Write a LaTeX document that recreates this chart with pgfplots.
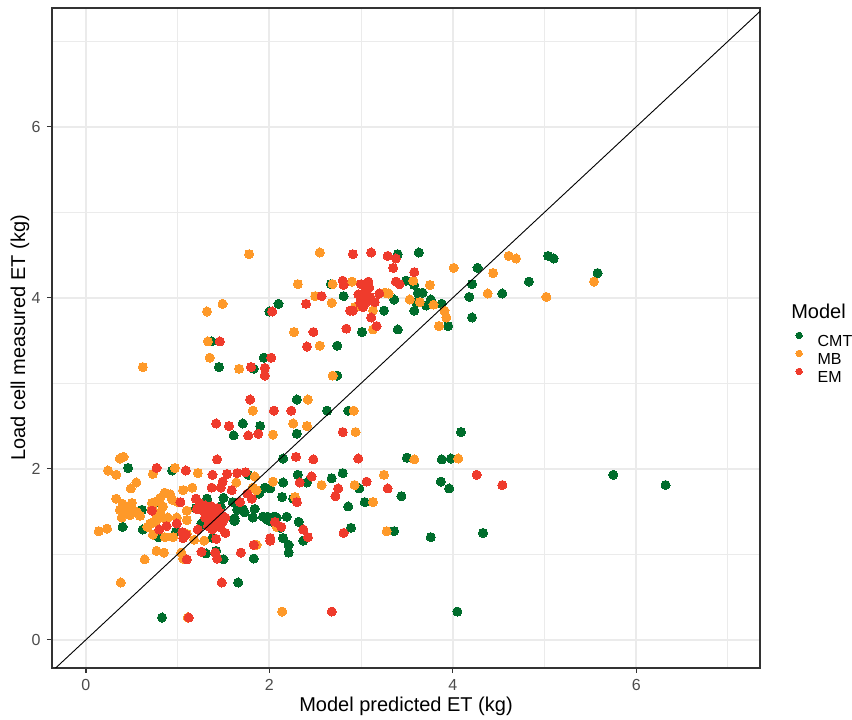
\documentclass[border=0pt]{standalone}
\usepackage{fontspec}
\setmainfont{Liberation Sans}
\usepackage{pgfplots}
\usepackage{pgfplotstable}
\pgfplotsset{compat=1.18}
\definecolor{cmt}{HTML}{006D2C}
\definecolor{mb}{HTML}{FE9929}
\definecolor{em}{HTML}{EF3B2C}
\definecolor{gridc}{gray}{0.92}
\definecolor{g20}{gray}{0.2}
\definecolor{g30}{gray}{0.3}

\pgfplotstableread{
x y
3.40 4.51
3.63 4.53
2.67 4.16
2.81 4.02
3.36 3.98
3.49 4.20
3.58 4.15
3.62 4.06
3.67 4.06
3.60 3.95
3.76 3.98
3.71 3.91
3.88 3.93
3.58 3.85
3.25 3.85
3.01 3.60
3.40 3.63
3.95 3.67
2.74 3.44
4.27 4.35
4.21 4.16
4.54 4.05
4.18 4.01
4.21 3.77
4.83 4.19
5.04 4.49
5.10 4.46
5.58 4.29
2.10 3.93
2.00 3.84
1.37 3.49
1.94 3.30
1.45 3.19
1.83 3.17
2.74 3.09
2.30 2.81
2.63 2.68
2.86 2.68
1.71 2.53
1.90 2.50
1.61 2.39
2.30 2.41
4.09 2.43
0.46 2.01
0.94 1.98
2.15 2.12
3.50 2.13
3.88 2.11
3.98 2.12
5.75 1.93
6.32 1.81
1.77 1.93
2.15 1.84
2.31 1.93
2.41 1.84
2.68 1.89
2.80 1.95
2.98 1.77
3.44 1.68
3.87 1.85
3.96 1.77
3.04 1.61
2.86 1.56
2.89 1.31
3.36 1.27
3.76 1.20
4.33 1.25
4.05 0.33
0.61 1.52
0.76 1.61
1.20 1.54
1.32 1.65
1.26 1.36
0.40 1.32
0.62 1.29
0.98 1.26
0.79 1.20
1.95 1.78
2.01 1.77
1.89 1.71
1.50 1.66
1.60 1.61
2.14 1.67
2.26 1.65
1.47 1.56
1.65 1.52
1.84 1.53
1.73 1.49
1.71 1.53
1.82 1.43
1.62 1.42
1.93 1.44
1.98 1.44
2.05 1.44
2.08 1.43
2.19 1.44
2.03 1.38
1.98 1.40
2.12 1.31
2.32 1.38
1.28 1.35
1.38 1.19
2.15 1.19
1.42 1.04
1.31 1.01
1.50 0.94
1.83 0.95
2.21 1.11
2.21 1.02
2.37 1.16
1.62 1.39
1.66 0.67
0.83 0.26
}\cmtdata

\pgfplotstableread{
x y
2.55 4.53
1.78 4.51
2.31 4.16
2.69 4.16
2.90 4.19
2.50 4.02
2.68 3.94
2.93 3.89
3.26 4.06
3.30 4.05
3.57 4.20
3.75 4.15
3.53 3.98
3.64 3.95
3.79 3.92
3.13 3.85
3.13 3.63
2.27 3.60
3.91 3.85
3.93 3.77
3.85 3.67
4.61 4.49
4.69 4.46
4.01 4.35
4.44 4.29
4.38 4.05
5.02 4.01
5.54 4.19
1.49 3.93
1.32 3.84
1.33 3.49
1.35 3.30
0.62 3.19
1.67 3.17
2.69 3.09
2.42 2.81
2.92 2.68
1.82 2.68
2.26 2.53
2.41 2.50
2.55 3.44
2.04 2.40
0.37 2.12
0.41 2.14
0.24 1.98
0.33 1.93
0.97 2.01
1.22 1.95
0.73 1.94
0.55 1.84
0.49 1.77
1.06 1.75
1.16 1.78
0.86 1.72
0.92 1.70
0.81 1.66
0.33 1.65
0.40 1.59
0.46 1.56
0.50 1.60
0.51 1.52
0.45 1.51
0.48 1.46
0.56 1.49
0.37 1.52
0.39 1.43
0.59 1.45
0.72 1.60
0.75 1.61
0.72 1.54
0.84 1.56
0.81 1.49
0.77 1.44
0.94 1.64
1.00 1.61
1.10 1.51
0.99 1.43
0.86 1.42
0.89 1.43
1.10 1.40
0.70 1.36
0.67 1.32
0.73 1.37
0.77 1.40
0.14 1.27
0.23 1.30
0.86 1.20
0.95 1.20
0.73 1.23
1.10 1.24
1.18 1.17
1.29 1.16
1.86 1.11
0.77 1.04
0.85 1.02
0.64 0.94
1.04 1.02
1.06 0.95
0.38 0.67
2.14 0.33
1.11 0.26
1.84 1.91
1.64 1.84
2.04 1.85
2.57 1.81
1.82 1.78
1.86 1.75
2.28 1.67
2.08 1.32
2.94 2.43
4.06 2.12
3.58 2.11
2.93 1.81
3.25 1.93
3.13 1.61
3.28 1.27
}\mbdata

\pgfplotstableread{
x y
2.91 4.51
3.11 4.53
3.29 4.49
3.38 4.46
3.35 4.35
3.58 4.30
2.80 4.20
2.81 4.15
3.00 4.16
3.08 4.19
3.09 4.12
2.57 4.02
2.40 3.93
2.97 4.04
3.01 4.00
3.04 4.06
2.99 3.94
3.06 3.95
3.02 3.89
3.10 4.01
2.88 3.85
2.91 3.85
3.15 3.95
3.20 4.05
3.38 4.19
3.42 4.16
3.11 3.77
3.17 3.67
2.84 3.64
2.48 3.60
2.41 3.43
2.03 3.84
1.46 3.49
2.02 3.30
1.80 3.19
1.95 3.18
1.95 3.09
1.79 2.81
2.05 2.68
2.24 2.68
1.42 2.53
1.56 2.50
1.77 2.39
1.88 2.41
2.80 2.43
1.43 2.11
2.29 2.14
2.48 2.11
2.97 2.12
4.26 1.93
4.54 1.81
0.77 2.01
1.09 1.98
1.38 1.93
1.54 1.94
1.65 1.95
1.74 1.96
1.49 1.85
2.33 1.84
2.46 1.91
1.37 1.78
1.47 1.78
1.59 1.75
1.76 1.71
1.81 1.65
1.68 1.61
2.30 1.61
2.75 1.77
2.72 1.68
3.06 1.85
3.29 1.77
0.72 1.51
1.03 1.61
1.20 1.65
1.24 1.60
1.30 1.57
1.21 1.53
1.26 1.52
1.32 1.54
1.37 1.56
1.43 1.54
1.35 1.49
1.41 1.46
1.46 1.49
1.30 1.43
1.38 1.40
1.46 1.40
1.52 1.43
2.06 1.38
2.37 1.29
2.42 1.20
1.38 1.29
1.46 1.32
1.52 1.25
2.01 1.19
0.88 1.33
0.80 1.29
0.99 1.36
1.05 1.26
1.09 1.23
1.06 1.19
1.22 1.29
1.33 1.33
1.42 1.18
1.41 1.02
1.26 1.03
1.43 0.95
1.69 1.02
1.83 1.11
2.01 1.16
2.13 1.32
1.10 0.94
1.48 0.67
1.12 0.26
2.81 1.25
2.68 0.33
1.43 1.38
1.49 1.38
}\emdata

\begin{document}
\begin{tikzpicture}
\begin{axis}[
  scale only axis, width=389.4pt, height=363pt,
  xmin=-0.37, xmax=7.35, ymin=-0.33, ymax=7.39,
  xtick={0,2,4,6}, ytick={0,2,4,6},
  minor xtick={1,3,5,7}, minor ytick={1,3,5,7},
  grid=both,
  major grid style={draw=gridc, line width=1.07pt},
  minor grid style={draw=gridc, line width=0.53pt},
  axis line style={draw=g20, line width=0.75pt},
  tick align=outside, major tick length=2.75pt, minor tick length=0pt,
  tick style={draw=g20, line width=0.75pt},
  tick pos=left,
  /pgf/number format/assume math mode=true,
  ticklabel style={font=\fontsize{8.8}{10}\selectfont, text=g30},
  xlabel={Model predicted ET (kg)},
  ylabel={Load cell measured ET (kg)},
  label style={font=\fontsize{11}{13}\selectfont},
  xlabel style={at={(axis description cs:0.5,-0.0576)}, anchor=center},
  ylabel style={at={(axis description cs:-0.0452,0.5)}, anchor=center},
  clip mode=individual,
  legend image code/.code={\draw[#1, mark size=1.8pt] plot coordinates {(0pt,3.15pt)};},
  legend cell align=left,
  legend style={draw=none, fill=none, inner sep=0pt, outer sep=0pt,
    at={(axis description cs:1.0506,0.5088)}, anchor=north west,
    row sep=1.8pt, column sep=8.4pt,
    nodes={inner sep=0pt, outer sep=0pt, font=\fontsize{8.8}{10}\selectfont, text height=6.3pt, text depth=0pt}},
]
\addplot[only marks, mark=*, mark size=2.5pt, color=cmt, mark options={draw=cmt, fill=cmt, line width=0pt}] table[x=x,y=y] {\cmtdata};
\addlegendentry{CMT}
\addplot[only marks, mark=*, mark size=2.5pt, color=mb, mark options={draw=mb, fill=mb, line width=0pt}] table[x=x,y=y] {\mbdata};
\addlegendentry{MB}
\addplot[only marks, mark=*, mark size=2.5pt, color=em, mark options={draw=em, fill=em, line width=0pt}] table[x=x,y=y] {\emdata};
\addlegendentry{EM}
\addplot[black, line width=0.5pt, forget plot] coordinates {(-1,-1) (8,8)};
\node[anchor=west, inner sep=0pt, font=\fontsize{11}{13}\selectfont] at (axis description cs:1.0437,0.5408) {Model};
\coordinate (ll) at (axis description cs:0,0);
\coordinate (ur) at (axis description cs:1,1);
\end{axis}
\pgfresetboundingbox
\path[use as bounding box] ([xshift=-28.6pt,yshift=-28.6pt]ll) rectangle ([xshift=50.6pt,yshift=4.4pt]ur);
\end{tikzpicture}
\end{document}
